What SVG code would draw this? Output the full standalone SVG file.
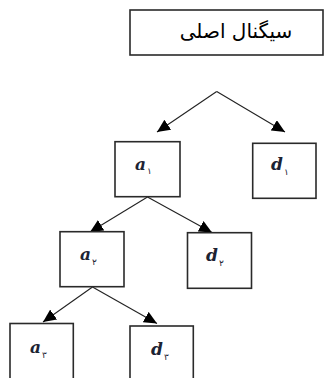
<svg xmlns="http://www.w3.org/2000/svg" width="326" height="378" viewBox="0 0 326 378">
<style>
.box{fill:#fff;stroke:#2a2a2a;stroke-width:1.6}
.lbl{font-family:"DejaVu Serif","Liberation Serif",serif;font-style:italic;font-weight:bold;font-size:17px;fill:#1c2333}
.sub{font-family:"DejaVu Sans",sans-serif;font-size:9px;fill:#1c2333}
.title{font-family:"DejaVu Sans","Liberation Sans",sans-serif;font-size:20px;fill:#000}
.conn{stroke:#222;stroke-width:1.1;fill:none;marker-end:url(#arr)}
</style>
<defs>
<marker id="arr" markerUnits="userSpaceOnUse" markerWidth="14" markerHeight="12" refX="13" refY="6" orient="auto">
<path d="M0,0 L13,6 L0,12 z" fill="#000"/>
</marker>
</defs>
<rect width="326" height="378" fill="#fff"/>
<g id="root">
<rect class="box" x="130" y="10" width="193" height="45"/>
<text class="title" x="236" y="38" text-anchor="middle" direction="rtl">سیگنال اصلی</text>
</g>
<g id="connectors">
<line class="conn" x1="216.7" y1="91.5" x2="157" y2="132"/>
<line class="conn" x1="216.7" y1="91.5" x2="285" y2="132"/>
<line class="conn" x1="147.5" y1="197" x2="90" y2="232"/>
<line class="conn" x1="147.5" y1="197" x2="212" y2="232.5"/>
<line class="conn" x1="92.5" y1="287" x2="43" y2="322"/>
<line class="conn" x1="92.5" y1="287" x2="157" y2="323.5"/>
</g>
<g id="a1">
<rect class="box" x="115" y="141.7" width="65" height="55"/>
<text class="lbl" x="135" y="170">a</text><text class="sub" x="147" y="174">۱</text>
</g>
<g id="d1">
<rect class="box" x="252.7" y="143.3" width="63.3" height="55"/>
<text class="lbl" x="271" y="170">d</text><text class="sub" x="284" y="175">۱</text>
</g>
<g id="a2">
<rect class="box" x="60" y="231.7" width="64" height="55"/>
<text class="lbl" x="80" y="260">a</text><text class="sub" x="92" y="265">۲</text>
</g>
<g id="d2">
<rect class="box" x="187.5" y="232.7" width="64" height="55.6"/>
<text class="lbl" x="206" y="261">d</text><text class="sub" x="219" y="266">۲</text>
</g>
<g id="a3">
<rect class="box" x="10" y="323.5" width="63.3" height="60"/>
<text class="lbl" x="30" y="353">a</text><text class="sub" x="42" y="358">۳</text>
</g>
<g id="d3">
<rect class="box" x="130" y="326" width="63.3" height="60"/>
<text class="lbl" x="151" y="355">d</text><text class="sub" x="164" y="360">۳</text>
</g>
</svg>
